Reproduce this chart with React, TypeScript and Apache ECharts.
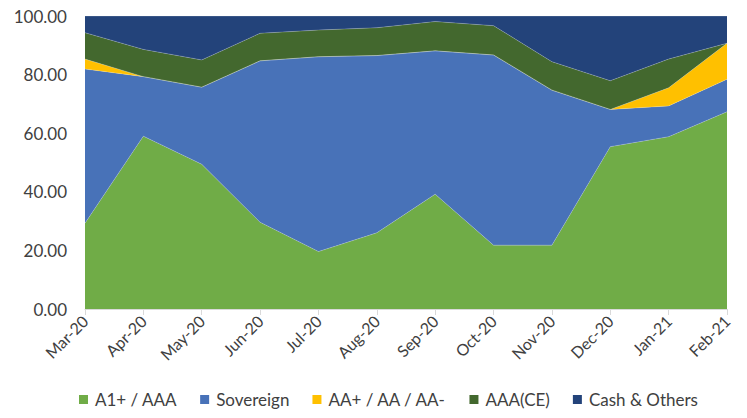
import React, { useEffect, useRef } from "react";
import * as echarts from "echarts";

const categories = ["Mar-20", "Apr-20", "May-20", "Jun-20", "Jul-20", "Aug-20", "Sep-20", "Oct-20", "Nov-20", "Dec-20", "Jan-21", "Feb-21"];
const a1Aaa = [29.3, 59.0, 49.4, 29.6, 19.6, 26.0, 39.2, 21.8, 21.8, 55.4, 58.8, 67.3];
const sovereign = [52.6, 20.3, 26.3, 55.1, 66.5, 60.5, 48.9, 64.9, 52.9, 12.7, 10.5, 11.1];
const aaPlus = [3.4, 0, 0, 0, 0, 0, 0, 0, 0, 0, 6.2, 12.3];
const aaaCe = [9.0, 9.3, 9.3, 9.4, 9.1, 9.5, 10.0, 10.0, 9.7, 9.8, 9.8, 0];
const cashOthers = [5.7, 11.4, 15.0, 5.9, 4.8, 4.0, 1.9, 3.3, 15.6, 22.1, 14.7, 9.3];

const seriesDefs = [
  { name: "A1+ / AAA", data: a1Aaa, color: "#70AC47" },
  { name: "Sovereign", data: sovereign, color: "#4872B8" },
  { name: "AA+ / AA / AA-", data: aaPlus, color: "#FFC000" },
  { name: "AAA(CE)", data: aaaCe, color: "#43682E" },
  { name: "Cash & Others", data: cashOthers, color: "#23437A" },
];

const FONT = "Lato, 'Open Sans', sans-serif";

export default function App() {
  const ref = useRef<HTMLDivElement>(null);
  useEffect(() => {
    document.body.style.margin = "0";
    if (!ref.current) return;
    const chart = echarts.init(ref.current, undefined, { renderer: "svg" });
    chart.setOption({
      animation: false,
      textStyle: { fontFamily: FONT },
      grid: { left: 85, right: 20, top: 16, bottom: 109, containLabel: false },
      legend: {
        top: 391,
        left: 79,
        padding: 0,
        icon: "rect",
        itemWidth: 9,
        itemHeight: 9,
        itemGap: 23,
        textStyle: { fontSize: 17, color: "#404040", fontFamily: FONT, padding: [0, 0, 0, 2] },
        data: seriesDefs.map((s) => s.name),
      },
      xAxis: {
        type: "category",
        boundaryGap: false,
        data: categories,
        axisLine: { show: true, lineStyle: { color: "#D9D9D9", width: 1 } },
        axisTick: { show: true, alignWithLabel: true, length: 6, lineStyle: { color: "#D9D9D9" } },
        axisLabel: { rotate: 45, fontSize: 16, color: "#404040", margin: 9, fontFamily: FONT, interval: 0 },
      },
      yAxis: {
        type: "value",
        min: 0,
        max: 100,
        interval: 20,
        axisLine: { show: false },
        axisTick: { show: false },
        splitLine: { show: false },
        axisLabel: {
          fontSize: 17,
          color: "#404040",
          margin: 18,
          fontFamily: FONT,
          formatter: (v: number) => v.toFixed(2),
        },
      },
      series: seriesDefs.map((s) => ({
        name: s.name,
        type: "line",
        stack: "total",
        data: s.data,
        showSymbol: false,
        symbol: "none",
        itemStyle: { color: s.color },
        lineStyle: { width: 0.6, color: "rgba(255,255,255,0.35)" },
        areaStyle: { color: s.color, opacity: 1 },
      })),
    });
    return () => chart.dispose();
  }, []);
  return <div ref={ref} style={{ width: 747, height: 418 }} />;
}
